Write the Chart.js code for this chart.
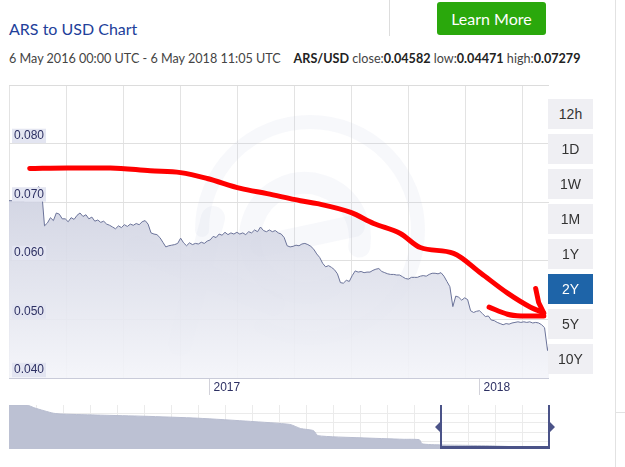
<!DOCTYPE html>
<html>
<head>
<meta charset="utf-8">
<script src="https://cdn.jsdelivr.net/npm/chart.js@4.4.0/dist/chart.umd.min.js"></script>
<style>
  body { margin: 0; background: #fff; width: 625px; height: 467px; overflow: hidden; position: relative; font-family: "Liberation Sans", Arial, sans-serif; }
  .abs { position: absolute; }
  #title { left: 9px; top: 19px; font: 16px/20px Lato, sans-serif; color: #22409a; }
  #range { left: 9px; top: 51px; font: 12.6px/15px Lato, sans-serif; color: #444; white-space: nowrap; }
  #range b { color: #222; }
  #sep { left: 389px; top: 0; width: 1px; height: 36px; background: #ddd; }
  #learn { left: 437px; top: 2px; width: 109px; height: 33px; line-height: 33px; background: #2aa80c; border-radius: 3px; color: #fff; text-align: center; font: 16px/33px Lato, sans-serif; }
  #edge { left: 615px; top: 0; width: 1px; height: 467px; background: #e2e2e2; }
  #stub { left: 616px; top: 412px; width: 9px; height: 1px; background: #e2e2e2; }
  #mainWrap { left: 9px; top: 85px; width: 540px; height: 318px; border-top: 1px solid #dcdcdc; box-sizing: border-box; }
  #navWrap { left: 9px; top: 405px; width: 552px; height: 44px; }
  .btn { position: absolute; left: 548px; width: 45px; height: 30px; line-height: 30px; text-align: center; font-size: 14px; color: #333; background: #efeff3; }
  .btn.on { background: #1e64a8; color: #fff; }
</style>
</head>
<body>
<div id="title" class="abs">ARS to USD Chart</div>
<div id="range" class="abs">6 May 2016 00:00 UTC - 6 May 2018 11:05 UTC &nbsp;&nbsp; <b>ARS/USD</b> close:<b>0.04582</b> low:<b>0.04471</b> high:<b>0.07279</b></div>
<div id="sep" class="abs"></div>
<div id="learn" class="abs">Learn More</div>
<div id="edge" class="abs"></div>
<div id="stub" class="abs"></div>
<div id="mainWrap" class="abs"><canvas id="mainChart"></canvas></div>
<div id="navWrap" class="abs"><canvas id="navChart"></canvas></div>
<div id="buttons"></div>
<script>
// ARS/USD rate, one reading every 4 days starting from the left edge
const rateStepDays = 4;
const rates = [
  0.0703, 0.0703, 0.0703, 0.0703, 0.0703, 0.0703, 0.0704, 0.0705, 0.0715, 0.0720, 0.0727, 0.0722,
  0.0660, 0.0665, 0.0674, 0.0669, 0.0682, 0.0680, 0.0672, 0.0672, 0.0667, 0.0674, 0.0671, 0.0678,
  0.0682, 0.0676, 0.0679, 0.0672, 0.0675, 0.0668, 0.0670, 0.0666, 0.0668, 0.0663, 0.0661, 0.0658,
  0.0655, 0.0660, 0.0657, 0.0662, 0.0659, 0.0663, 0.0661, 0.0664, 0.0662, 0.0667, 0.0669, 0.0663,
  0.0648, 0.0646, 0.0645, 0.0640, 0.0632, 0.0624, 0.0626, 0.0627, 0.0628, 0.0630, 0.0639, 0.0631,
  0.0626, 0.0631, 0.0628, 0.0630, 0.0629, 0.0632, 0.0630, 0.0634, 0.0636, 0.0642, 0.0640, 0.0646,
  0.0644, 0.0649, 0.0645, 0.0648, 0.0646, 0.0649, 0.0646, 0.0648, 0.0645, 0.0650, 0.0648, 0.0653,
  0.0650, 0.0658, 0.0652, 0.0650, 0.0653, 0.0650, 0.0652, 0.0648, 0.0646, 0.0640, 0.0626, 0.0624,
  0.0625, 0.0627, 0.0626, 0.0629, 0.0630, 0.0628, 0.0625, 0.0620, 0.0612, 0.0606, 0.0596, 0.0590,
  0.0592, 0.0589, 0.0585, 0.0578, 0.0563, 0.0562, 0.0567, 0.0565, 0.0575, 0.0583, 0.0581, 0.0582,
  0.0580, 0.0581, 0.0581, 0.0584, 0.0586, 0.0587, 0.0582, 0.0580, 0.0578, 0.0577, 0.0577, 0.0576,
  0.0576, 0.0573, 0.0570, 0.0569, 0.0572, 0.0572, 0.0572, 0.0574, 0.0575, 0.0574, 0.0577, 0.0579,
  0.0579, 0.0578, 0.0580, 0.0574, 0.0565, 0.0556, 0.0522, 0.0540, 0.0538, 0.0533, 0.0537, 0.0534,
  0.0515, 0.0512, 0.0514, 0.0515, 0.0510, 0.0505, 0.0506, 0.0499, 0.0498, 0.0495, 0.0493, 0.0491,
  0.0493, 0.0492, 0.0494, 0.0495, 0.0496, 0.0495, 0.0496, 0.0495, 0.0496, 0.0494, 0.0495, 0.0494,
  0.0491, 0.0486, 0.0447
];
const lastDay = 730;
const closeRate = 0.04582;

const yTicks = [0.04, 0.05, 0.06, 0.07, 0.08];
const yMin = 0.04;
const yMax = 0.0899;
const yearDays = [271, 636];
const yearLabels = ['2017', '2018'];
const gridStepDays = 77.2;

// hand-drawn red annotation (trend line and arrow head)
const redDays = [28, 79, 137, 191, 232, 268, 313, 349, 394, 417, 462, 493, 529, 556, 601, 638, 674, 705, 722];
const redRates = [0.0758, 0.0759, 0.0759, 0.0754, 0.0751, 0.0741, 0.0724, 0.0715, 0.0703, 0.0698, 0.0683, 0.0664, 0.0647, 0.0623, 0.0613, 0.0579, 0.0545, 0.0521, 0.0512];
const arrowLowDays = [649, 674, 692, 723];
const arrowLowRates = [0.0521, 0.0509, 0.0506, 0.0506];
const arrowUpDays = [712, 716, 723];
const arrowUpRates = [0.0553, 0.0529, 0.0511];

// navigator: 10 years of history
const navYears = [0, 0.33, 0.48, 0.82, 1.0, 1.7, 2.5, 3.5, 4.47, 5.2, 5.4, 5.64, 5.72, 6.5, 7.3, 7.6, 7.65, 8.0, 8.5, 9.0, 9.5, 10];
const navRates = [0.330, 0.330, 0.310, 0.276, 0.270, 0.263, 0.256, 0.243, 0.222, 0.202, 0.175, 0.161, 0.128, 0.114, 0.104, 0.101, 0.074, 0.067, 0.064, 0.060, 0.053, 0.047];
const navGridRates = [0.087, 0.148, 0.215, 0.276];
const navSelection = [8, 10];

const ranges = ['12h', '1D', '1W', '1M', '1Y', '2Y', '5Y', '10Y'];
const activeRange = '2Y';

const buttons = document.getElementById('buttons');
ranges.forEach((r, i) => {
    const b = document.createElement('div');
    b.className = 'btn' + (r === activeRange ? ' on' : '');
    b.style.top = (99 + i * 35) + 'px';
    b.textContent = r;
    buttons.appendChild(b);
});

const rateData = rates.map((v, i) => ({ x: i * rateStepDays, y: v }));
rateData.push({ x: lastDay, y: closeRate });
const toPoints = (xs, ys) => xs.map((x, i) => ({ x: x, y: ys[i] }));

// scales fill the whole canvas, no automatic label padding
const noPad = (height, width) => (s) => {
    if (height !== undefined) s.height = height;
    if (width !== undefined) s.width = width;
    s.paddingTop = 0; s.paddingBottom = 0; s.paddingLeft = 0; s.paddingRight = 0;
};

const watermark = {
    id: 'watermark',
    beforeDatasetsDraw(chart) {
        const { ctx, chartArea: a } = chart;
        ctx.save();
        ctx.strokeStyle = 'rgba(190,195,220,0.12)';
        ctx.lineCap = 'round';
        ctx.lineWidth = 14;
        ctx.beginPath();
        ctx.arc(a.left + 301, a.top + 144, 108, Math.PI, 0.65 * Math.PI);
        ctx.stroke();
        ctx.lineWidth = 22;
        ctx.beginPath();
        ctx.arc(a.left + 296, a.top + 152, 55, 0.35 * Math.PI, 2.05 * Math.PI);
        ctx.stroke();
        ctx.beginPath();
        ctx.moveTo(a.left + 252, a.top + 160);
        ctx.lineTo(a.left + 345, a.top + 140);
        ctx.stroke();
        ctx.lineWidth = 24;
        ctx.beginPath();
        ctx.moveTo(a.left + 128, a.top + 162);
        ctx.lineTo(a.left + 264, a.top + 218);
        ctx.moveTo(a.left + 204, a.top + 132);
        ctx.lineTo(a.left + 171, a.top + 258);
        ctx.stroke();
        ctx.restore();
    }
};

const red = { borderColor: '#ff0000', borderWidth: 5, borderCapStyle: 'round', borderJoinStyle: 'round', pointRadius: 0, fill: false, order: 0 };

new Chart(document.getElementById('mainChart'), {
    type: 'line',
    data: {
        datasets: [
            Object.assign({ data: toPoints(redDays, redRates), cubicInterpolationMode: 'monotone' }, red),
            Object.assign({ data: toPoints(arrowLowDays, arrowLowRates), tension: 0.3 }, red),
            Object.assign({ data: toPoints(arrowUpDays, arrowUpRates), tension: 0 }, red),
            {
                data: rateData,
                borderColor: '#6b7399',
                borderWidth: 1,
                pointRadius: 0,
                tension: 0,
                fill: 'start',
                order: 1,
                backgroundColor: (c) => {
                    const area = c.chart.chartArea;
                    if (!area) return 'rgba(200,203,220,0.8)';
                    const g = c.chart.ctx.createLinearGradient(0, area.top, 0, area.bottom);
                    g.addColorStop(0, 'rgba(184,188,210,0.9)');
                    g.addColorStop(1, 'rgba(243,244,249,0.9)');
                    return g;
                }
            }
        ]
    },
    options: {
        responsive: true,
        maintainAspectRatio: false,
        animation: false,
        layout: { padding: 0, autoPadding: false },
        plugins: { legend: { display: false }, tooltip: { enabled: false } },
        scales: {
            x: {
                type: 'linear', min: 0, max: lastDay,
                afterBuildTicks: (s) => {
                    const t = [];
                    for (let d = 0; d < lastDay - 10; d += gridStepDays) t.push({ value: d });
                    t.push({ value: lastDay });
                    s.ticks = t;
                },
                ticks: { display: false },
                grid: { color: '#e3e3e3', drawTicks: false },
                border: { color: '#c9cbd9' },
                afterFit: noPad(0)
            },
            xYears: {
                type: 'linear', position: 'bottom', min: 0, max: lastDay,
                afterBuildTicks: (s) => { s.ticks = yearDays.map(v => ({ value: v })); },
                ticks: {
                    callback: (v, i) => yearLabels[i],
                    align: 'start', labelOffset: 4, padding: -15,
                    autoSkip: false, maxRotation: 0,
                    color: '#2d3063', font: { family: 'Liberation Sans', size: 12 }
                },
                grid: { drawOnChartArea: false, tickLength: 17, color: '#d2d2da' },
                border: { display: false },
                afterFit: noPad(25)
            },
            y: {
                min: yMin, max: yMax,
                afterBuildTicks: (s) => { s.ticks = yTicks.map(v => ({ value: v })); },
                ticks: { display: false },
                grid: { color: '#e0e0e0', drawTicks: false },
                border: { display: false },
                afterFit: noPad(undefined, 0)
            },
            yLabels: {
                position: 'left', min: yMin, max: yMax,
                afterBuildTicks: (s) => { s.ticks = yTicks.map(v => ({ value: v })); },
                ticks: {
                    z: 1, mirror: true, padding: 5, labelOffset: -8,
                    callback: (v) => v.toFixed(3),
                    color: '#2d3063', font: { family: 'Liberation Sans', size: 12 },
                    showLabelBackdrop: true, backdropColor: '#e3e5f1',
                    backdropPadding: { top: 0, bottom: 0, left: 2, right: 2 }
                },
                grid: { display: false, drawTicks: false },
                border: { display: false },
                afterFit: noPad(undefined, 0)
            }
        }
    },
    plugins: [watermark]
});

const selection = {
    id: 'selection',
    afterDatasetsDraw(chart) {
        const { ctx, chartArea: a, scales } = chart;
        const x0 = Math.round(scales.x.getPixelForValue(navSelection[0]));
        const x1 = Math.round(scales.x.getPixelForValue(navSelection[1]));
        const mid = (a.top + a.bottom) / 2;
        ctx.save();
        ctx.strokeStyle = '#4b5388';
        ctx.fillStyle = '#4b5388';
        ctx.lineWidth = 2;
        ctx.beginPath();
        ctx.moveTo(x0, a.top);
        ctx.lineTo(x0, a.bottom);
        ctx.moveTo(x1, a.top);
        ctx.lineTo(x1, a.bottom);
        ctx.stroke();
        ctx.lineWidth = 3;
        ctx.beginPath();
        ctx.moveTo(x0, a.bottom - 1.5);
        ctx.lineTo(x1, a.bottom - 1.5);
        ctx.stroke();
        ctx.beginPath();
        ctx.moveTo(x0, mid - 6); ctx.lineTo(x0 - 6, mid); ctx.lineTo(x0, mid + 6);
        ctx.moveTo(x1, mid - 6); ctx.lineTo(x1 + 6, mid); ctx.lineTo(x1, mid + 6);
        ctx.fill();
        ctx.restore();
    }
};

new Chart(document.getElementById('navChart'), {
    type: 'line',
    data: {
        datasets: [{
            data: toPoints(navYears, navRates),
            borderColor: '#b8bdd0',
            borderWidth: 1,
            backgroundColor: '#bcc1d3',
            fill: 'start',
            pointRadius: 0,
            tension: 0.2
        }]
    },
    options: {
        responsive: true,
        maintainAspectRatio: false,
        animation: false,
        layout: { padding: { right: 12 }, autoPadding: false },
        plugins: { legend: { display: false }, tooltip: { enabled: false } },
        scales: {
            x: {
                type: 'linear', min: 0, max: 10,
                ticks: { display: false, stepSize: 0.5 },
                grid: { color: '#ebebeb', drawTicks: false },
                border: { color: '#d8d9e2' },
                afterFit: noPad(0)
            },
            y: {
                min: 0.04, max: 0.33,
                afterBuildTicks: (s) => { s.ticks = navGridRates.map(v => ({ value: v })); },
                ticks: { display: false },
                grid: { color: '#ebebeb', drawTicks: false },
                border: { color: '#d0d2dc' },
                afterFit: noPad(undefined, 0)
            }
        }
    },
    plugins: [selection]
});
</script>
</body>
</html>
